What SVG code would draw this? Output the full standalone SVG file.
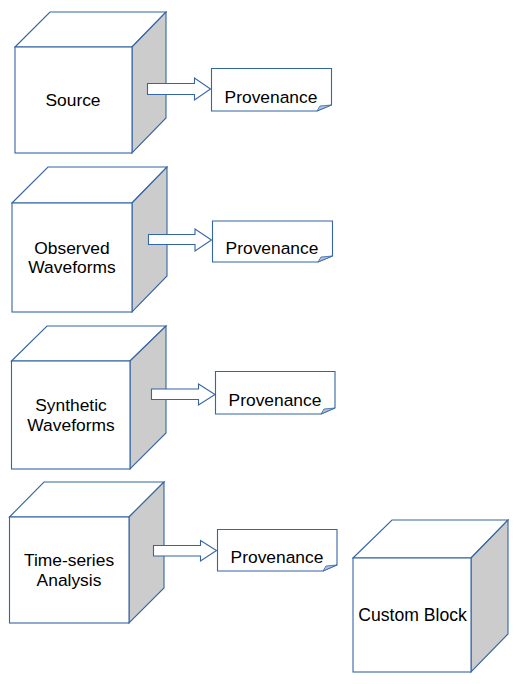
<svg xmlns="http://www.w3.org/2000/svg" width="529" height="684" viewBox="0 0 529 684">
<style>
.face{fill:#ffffff;stroke:#3465a4;stroke-width:1.1;stroke-linejoin:miter}
.side{fill:#cccccc;stroke:#3465a4;stroke-width:1.1}
.note{fill:#ffffff;stroke:#3465a4;stroke-width:1.1}
.fold{fill:#b4c0d8;stroke:#3465a4;stroke-width:0.8}
.arrow{fill:#ffffff;stroke:#3465a4;stroke-width:1.1}
text{font-family:"Liberation Sans",Arial,sans-serif;font-size:17.4px;fill:#000000;text-anchor:middle}
</style>
<rect width="529" height="684" fill="#ffffff"/>

<g id="source">
<polygon class="face" points="15,47 50,12 166,12 132,47"/>
<polygon class="side" points="132,47 166,12 166,118 132,153"/>
<rect class="face" x="15" y="47" width="117" height="106"/>
<text x="73" y="106">Source</text>
</g>

<g id="observed">
<polygon class="face" points="12,203 48,167 167,167 132,203"/>
<polygon class="side" points="132,203 167,167 167,276 132,312"/>
<rect class="face" x="12" y="203" width="120" height="109"/>
<text x="72" y="254">Observed</text>
<text x="72" y="273">Waveforms</text>
</g>

<g id="synthetic">
<polygon class="face" points="11.5,361 47,326 166,326 130,361"/>
<polygon class="side" points="130,361 166,326 166,433 130,469"/>
<rect class="face" x="11.5" y="361" width="118.5" height="108"/>
<text x="71" y="411">Synthetic</text>
<text x="71" y="431">Waveforms</text>
</g>

<g id="timeseries">
<polygon class="face" points="9.5,517 44,482 164,482 129,517"/>
<polygon class="side" points="129,517 164,482 164,588 129,623"/>
<rect class="face" x="9.5" y="517" width="119.5" height="106"/>
<text x="69" y="566">Time-series</text>
<text x="69" y="586">Analysis</text>
</g>

<g id="custom">
<polygon class="face" points="353,558 392,520 508,520 471,558"/>
<polygon class="side" points="471,558 508,520 508,634 471,672"/>
<rect class="face" x="353" y="558" width="118" height="114"/>
<text x="412.5" y="621" style="font-size:17.6px">Custom Block</text>
</g>

<g id="prov1">
<path class="note" d="M211.5,68.5 H331.5 V105 L317,111 H211.5 Z"/>
<path class="fold" d="M317,111 L320,106 L331.5,105 Z"/>
<text x="271" y="103">Provenance</text>
</g>

<g id="prov2">
<path class="note" d="M212.5,221 H332.5 V256 L318,262 H212.5 Z"/>
<path class="fold" d="M318,262 L321,257 L332.5,256 Z"/>
<text x="272" y="254">Provenance</text>
</g>

<g id="prov3">
<path class="note" d="M215.5,371.5 H335 V408 L321,414 H215.5 Z"/>
<path class="fold" d="M321,414 L324,409 L335,408 Z"/>
<text x="275" y="406">Provenance</text>
</g>

<g id="prov4">
<path class="note" d="M217.5,529.5 H337 V565 L323,571 H217.5 Z"/>
<path class="fold" d="M323,571 L326,566 L337,565 Z"/>
<text x="277" y="563">Provenance</text>
</g>

<g id="connectors">
<polygon class="arrow" points="147.5,83.5 194.5,83.5 194.5,78 210.5,89 194.5,100 194.5,94.5 147.5,94.5"/>
<polygon class="arrow" points="148.5,234.5 195,234.5 195,229 211.5,240 195,251 195,244.5 148.5,244.5"/>
<polygon class="arrow" points="151.5,389 198.5,389 198.5,384 215,394.5 198.5,405 198.5,399.5 151.5,399.5"/>
<polygon class="arrow" points="153.5,545.5 200.5,545.5 200.5,540.5 216.5,550.5 200.5,561 200.5,556 153.5,556"/>
</g>
</svg>
